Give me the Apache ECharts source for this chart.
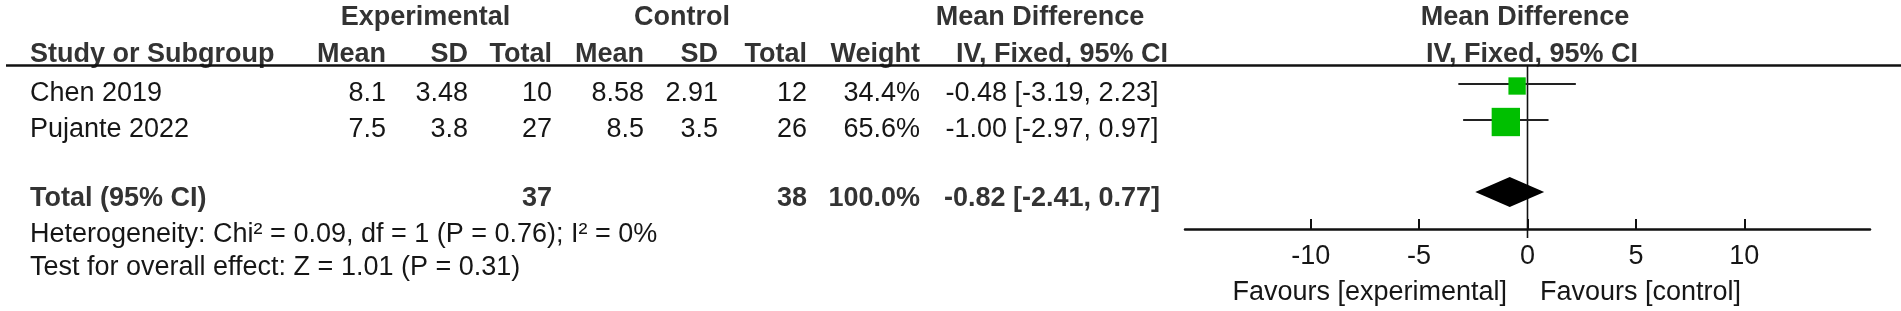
<!DOCTYPE html>
<html>
<head>
<meta charset="utf-8">
<script src="https://cdn.jsdelivr.net/npm/echarts@6.0.0/dist/echarts.min.js"></script>
<style>
    html, body { margin: 0; padding: 0; background: #fff; }
    #mainForest { width: 1901px; height: 311px; }
</style>
</head>
<body>
<div id="mainForest"></div>
<script>
var studies = ['Chen 2019', 'Pujante 2022'];
var expMean = ['8.1', '7.5'];
var expSD = ['3.48', '3.8'];
var expTotal = [10, 27];
var ctlMean = ['8.58', '8.5'];
var ctlSD = ['2.91', '3.5'];
var ctlTotal = [12, 26];
var weights = [34.4, 65.6];
var meanDiff = [-0.48, -1.00];
var ciLow = [-3.19, -2.97];
var ciHigh = [2.23, 0.97];

var totalExp = 37;
var totalCtl = 38;
var totalWeight = 100.0;
var totalDiff = -0.82;
var totalLow = -2.41;
var totalHigh = 0.77;

var hetText = 'Heterogeneity: Chi\u00b2 = 0.09, df = 1 (P = 0.76); I\u00b2 = 0%';
var effectText = 'Test for overall effect: Z = 1.01 (P = 0.31)';
var tickValues = [-10, -5, 0, 5, 10];
var favourLeft = 'Favours [experimental]';
var favourRight = 'Favours [control]';

// plot rows: studies on 1,2 ; total on 4
var studyRows = [1, 2];
var totalRow = 4;

var FONT = "'Liberation Sans', Arial, sans-serif";
var myChartForest;

function txt(s, x, y, align, bold) {
    return {
        type: 'text',
        silent: true,
        style: {
            text: s,
            x: x,
            y: y,
            textAlign: align || 'left',
            textVerticalAlign: 'middle',
            fontFamily: FONT,
            fontSize: 27,
            fontWeight: bold ? 'bold' : 'normal',
            fill: bold ? '#333' : '#161616'
        }
    };
}

function ciLabel(m, lo, hi) {
    return m.toFixed(2) + ' [' + lo.toFixed(2) + ', ' + hi.toFixed(2) + ']';
}

function DrawForest() {
    myChartForest = echarts.init(document.getElementById('mainForest'), null, { renderer: 'canvas' });

    // column right edges of the table
    var colRight = [386, 468, 552, 644, 718, 807, 920];
    var ciCenter = 1052;
    var rowY = [93.5, 129.5];
    var g = [];

    g.push(txt('Experimental', 425.5, 18, 'center', true));
    g.push(txt('Control', 682, 18, 'center', true));
    g.push(txt('Mean Difference', 1040, 18, 'center', true));
    g.push(txt('Mean Difference', 1525, 18, 'center', true));

    g.push(txt('Study or Subgroup', 30, 55, 'left', true));
    var heads = ['Mean', 'SD', 'Total', 'Mean', 'SD', 'Total', 'Weight'];
    for (var h = 0; h < heads.length; h++) {
        g.push(txt(heads[h], colRight[h], 55, 'right', true));
    }
    g.push(txt('IV, Fixed, 95% CI', 1062, 55, 'center', true));
    g.push(txt('IV, Fixed, 95% CI', 1532, 55, 'center', true));

    g.push({
        type: 'line',
        silent: true,
        shape: { x1: 6, y1: 65.5, x2: 1901, y2: 65.5 },
        style: { stroke: '#111', lineWidth: 2.5 }
    });

    for (var i = 0; i < studies.length; i++) {
        var y = rowY[i];
        g.push(txt(studies[i], 30, y, 'left'));
        var cells = [expMean[i], expSD[i], String(expTotal[i]), ctlMean[i], ctlSD[i], String(ctlTotal[i]), weights[i].toFixed(1) + '%'];
        for (var c = 0; c < cells.length; c++) {
            g.push(txt(cells[c], colRight[c], y, 'right'));
        }
        g.push(txt(ciLabel(meanDiff[i], ciLow[i], ciHigh[i]), ciCenter, y, 'center'));
    }

    g.push(txt('Total (95% CI)', 30, 199, 'left', true));
    g.push(txt(String(totalExp), colRight[2], 199, 'right', true));
    g.push(txt(String(totalCtl), colRight[5], 199, 'right', true));
    g.push(txt(totalWeight.toFixed(1) + '%', colRight[6], 199, 'right', true));
    g.push(txt(ciLabel(totalDiff, totalLow, totalHigh), ciCenter, 199, 'center', true));

    g.push(txt(hetText, 30, 235, 'left'));
    g.push(txt(effectText, 30, 268, 'left'));

    g.push(txt(favourLeft, 1507, 293, 'right'));
    g.push(txt(favourRight, 1540, 293, 'left'));

    var ciData = [];
    var pointData = [];
    for (var k = 0; k < studies.length; k++) {
        ciData.push([ciLow[k], ciHigh[k], studyRows[k]]);
        pointData.push([meanDiff[k], studyRows[k]]);
    }

    optionForest = {
        animation: false,
        backgroundColor: '#fff',
        grid: {
            left: 1185,
            top: 65,
            width: 685,
            height: 164
        },
        xAxis: {
            type: 'value',
            min: -15.8,
            max: 15.8,
            splitLine: { show: false },
            axisLine: {
                show: true,
                onZero: false,
                lineStyle: { color: '#111', width: 2.5 }
            },
            axisTick: {
                show: true,
                inside: true,
                length: 10,
                customValues: tickValues,
                lineStyle: { color: '#111', width: 2 }
            },
            axisLabel: {
                show: true,
                margin: 14,
                customValues: tickValues,
                fontFamily: FONT,
                fontSize: 27,
                color: '#161616'
            }
        },
        yAxis: {
            type: 'value',
            inverse: true,
            min: 0.4722,
            max: 5.0278,
            show: false,
            splitLine: { show: false }
        },
        graphic: g,
        series: [
            {
                // line of no effect
                type: 'custom',
                data: [[0]],
                encode: { x: 0 },
                z: 1,
                renderItem: function (params, api) {
                    var top = api.coord([0, 0.4722]);
                    var bot = api.coord([0, 5.0278]);
                    return {
                        type: 'line',
                        shape: { x1: top[0], y1: top[1], x2: bot[0], y2: bot[1] + 9 },
                        style: { stroke: '#111', lineWidth: 1.6 }
                    };
                }
            },
            {
                type: 'custom',
                data: ciData,
                encode: { x: [0, 1], y: 2 },
                z: 2,
                renderItem: function (params, api) {
                    var a = api.coord([api.value(0), api.value(2)]);
                    var b = api.coord([api.value(1), api.value(2)]);
                    return {
                        type: 'line',
                        shape: { x1: a[0], y1: a[1], x2: b[0], y2: b[1] },
                        style: { stroke: '#222', lineWidth: 2 }
                    };
                }
            },
            {
                type: 'scatter',
                data: pointData,
                symbol: 'rect',
                symbolOffset: [0, 2],
                symbolSize: function (val, params) {
                    return 5.2 + weights[params.dataIndex] * 0.3526;
                },
                itemStyle: { color: '#00bf00', opacity: 1 },
                z: 3,
                silent: true
            },
            {
                type: 'custom',
                data: [[totalLow, totalDiff, totalHigh, totalRow]],
                encode: { x: [0, 2], y: 3 },
                z: 3,
                renderItem: function (params, api) {
                    var l = api.coord([api.value(0), api.value(3)]);
                    var m = api.coord([api.value(1), api.value(3)]);
                    var r = api.coord([api.value(2), api.value(3)]);
                    return {
                        type: 'polygon',
                        shape: { points: [[l[0], l[1]], [m[0], m[1] - 15], [r[0], r[1]], [m[0], m[1] + 15]] },
                        style: { fill: '#000' }
                    };
                }
            }
        ]
    };
    myChartForest.setOption(optionForest);
}

DrawForest();
</script>
</body>
</html>
